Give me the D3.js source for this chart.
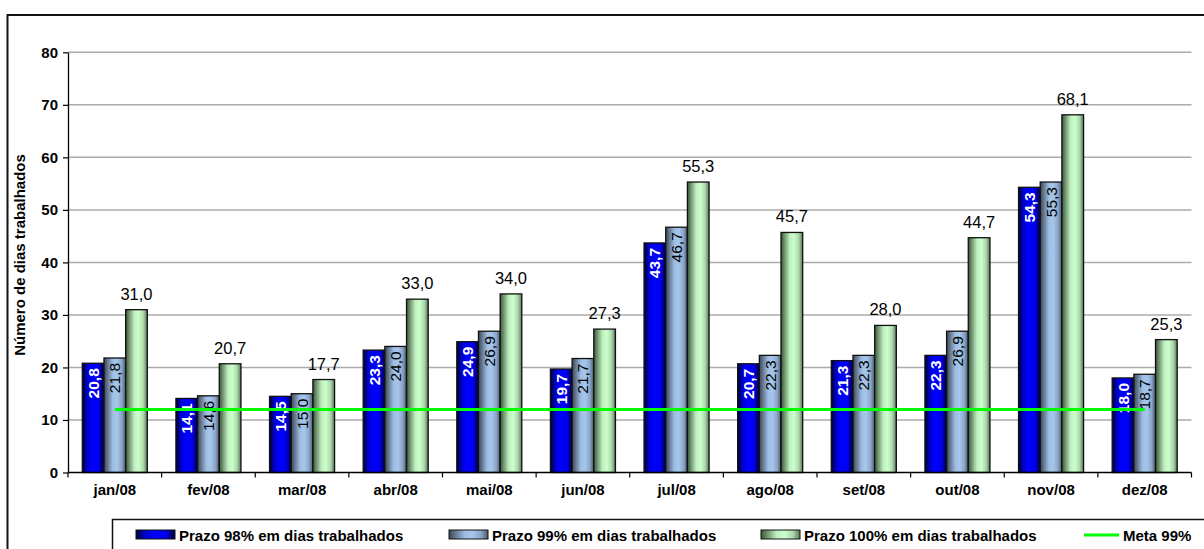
<!DOCTYPE html>
<html>
<head>
<meta charset="utf-8">
<script src="https://cdn.jsdelivr.net/npm/d3@7"></script>
<style>
  html, body { margin: 0; padding: 0; background: #fff; }
  svg { display: block; }
  text { font-family: "Liberation Sans", Arial, sans-serif; }
</style>
</head>
<body>
<script>
// Months of 2008
const months = ["jan/08", "fev/08", "mar/08", "abr/08", "mai/08", "jun/08",
                "jul/08", "ago/08", "set/08", "out/08", "nov/08", "dez/08"];

// Deadline in worked days for 98%, 99% and 100% of cases
const prazo98 = [20.8, 14.1, 14.5, 23.3, 24.9, 19.7, 43.7, 20.7, 21.3, 22.3, 54.3, 18.0];
const prazo99 = [21.8, 14.6, 15.0, 24.0, 26.9, 21.7, 46.7, 22.3, 22.3, 26.9, 55.3, 18.7];
const prazo100 = [31.0, 20.7, 17.7, 33.0, 34.0, 27.3, 55.3, 45.7, 28.0, 44.7, 68.1, 25.3];

// Target for the 99% deadline
const meta99 = [12, 12, 12, 12, 12, 12, 12, 12, 12, 12, 12, 12];

const yTicks = [0, 10, 20, 30, 40, 50, 60, 70, 80];

const seriesNames = ["Prazo 98% em dias trabalhados",
                     "Prazo 99% em dias trabalhados",
                     "Prazo 100% em dias trabalhados"];
const metaName = "Meta 99%";

const W = 1204, H = 549;
const plot = { left: 68, right: 1191.5, top: 52.3, bottom: 472.5 };

const svg = d3.select("body").append("svg")
  .attr("width", W).attr("height", H);

// Cylinder-like shading for each bar series
const defs = svg.append("defs");
const gradients = [
  { id: "g98", stops: [[0, "#00002a"], [0.22, "#0000c8"], [0.45, "#0000ff"], [0.75, "#0000f0"], [1, "#00003a"]] },
  { id: "g99", stops: [[0, "#3c4756"], [0.4, "#9dbde2"], [0.6, "#a6c6ec"], [0.82, "#8aa6c8"], [1, "#4c5a6a"]] },
  { id: "g100", stops: [[0, "#3a553a"], [0.4, "#bfefbf"], [0.6, "#ccffcc"], [0.82, "#abd8ab"], [1, "#587558"]] }
];
gradients.forEach(g => {
  const lg = defs.append("linearGradient").attr("id", g.id)
    .attr("x1", 0).attr("x2", 1).attr("y1", 0).attr("y2", 0);
  g.stops.forEach(s => lg.append("stop").attr("offset", s[0]).attr("stop-color", s[1]));
});

// Outer frame
svg.append("rect")
  .attr("x", 7.5).attr("y", 15).attr("width", W + 20).attr("height", H + 20)
  .attr("fill", "none").attr("stroke", "#111").attr("stroke-width", 2);

const x0 = d3.scaleBand().domain(months).range([plot.left, plot.right]).padding(0);
const x1 = d3.scaleBand().domain([0, 1, 2]).range([0, x0.bandwidth()])
  .paddingInner(0).paddingOuter(0.66);
const y = d3.scaleLinear().domain([0, 80]).range([plot.bottom, plot.top]);

// Horizontal gridlines
svg.append("g").selectAll("line").data(yTicks.filter(t => t > 0)).join("line")
  .attr("x1", plot.left).attr("x2", plot.right)
  .attr("y1", d => y(d)).attr("y2", d => y(d))
  .attr("stroke", "#ababab").attr("stroke-width", 1.5);

// Y axis
const yAxis = svg.append("g")
  .attr("transform", `translate(${plot.left},0)`)
  .call(d3.axisLeft(y).tickValues(yTicks).tickSize(5).tickPadding(5).tickSizeOuter(0));
yAxis.select(".domain").attr("stroke", "#000").attr("stroke-width", 1.3);
yAxis.selectAll(".tick line").attr("stroke", "#000").attr("stroke-width", 1.2);
yAxis.selectAll(".tick text")
  .attr("font-family", "'Liberation Sans', Arial, sans-serif")
  .attr("font-size", 15).attr("font-weight", "bold").attr("fill", "#000");

// Y axis title
svg.append("text")
  .attr("transform", `translate(25,255) rotate(-90)`)
  .attr("text-anchor", "middle")
  .attr("font-size", 15).attr("font-weight", "bold")
  .text("Número de dias trabalhados");

const fmt = v => d3.format(".1f")(v).replace(".", ",");

const allSeries = [prazo98, prazo99, prazo100];

// Bars
allSeries.forEach((vals, si) => {
  const g = svg.append("g");
  g.selectAll("rect").data(vals).join("rect")
    .attr("x", (d, i) => x0(months[i]) + x1(si))
    .attr("y", d => y(d))
    .attr("width", x1.bandwidth())
    .attr("height", d => y(0) - y(d))
    .attr("fill", `url(#${gradients[si].id})`)
    .attr("stroke", "#111").attr("stroke-width", 1.3);
});

// Value labels: vertical inside the first two series, horizontal above the third
[0, 1].forEach(si => {
  svg.append("g").selectAll("text").data(allSeries[si]).join("text")
    .attr("transform", (d, i) => {
      const cx = x0(months[i]) + x1(si) + x1.bandwidth() / 2 + 5.5;
      return `translate(${cx},${y(d) + 5}) rotate(-90)`;
    })
    .attr("text-anchor", "end")
    .attr("font-size", 15.5)
    .attr("font-weight", si === 0 ? "bold" : "normal")
    .attr("fill", si === 0 ? "#fff" : "#000")
    .text(d => fmt(d));
});
svg.append("g").selectAll("text").data(prazo100).join("text")
  .attr("x", (d, i) => x0(months[i]) + x1(2) + x1.bandwidth() / 2)
  .attr("y", d => y(d) - 10)
  .attr("text-anchor", "middle")
  .attr("font-size", 16.5)
  .attr("fill", "#000")
  .text(d => fmt(d));

// Target line through the category centres
const line = d3.line()
  .x((d, i) => x0(months[i]) + x0.bandwidth() / 2)
  .y(d => y(d));
svg.append("path").datum(meta99)
  .attr("d", line)
  .attr("fill", "none").attr("stroke", "#00ff00").attr("stroke-width", 3);

// X axis
const xAxis = svg.append("g")
  .attr("transform", `translate(0,${plot.bottom})`)
  .call(d3.axisBottom(x0).tickSize(0).tickPadding(12));
xAxis.select(".domain").remove();
xAxis.append("line")
  .attr("x1", plot.left).attr("x2", plot.right)
  .attr("stroke", "#000").attr("stroke-width", 1.3);
xAxis.selectAll(".tick text")
  .attr("font-family", "'Liberation Sans', Arial, sans-serif")
  .attr("font-size", 15).attr("font-weight", "bold").attr("fill", "#000");
// Category separator marks
xAxis.append("g").selectAll("line")
  .data(months.map(m => x0(m)).concat([plot.right])).join("line")
  .attr("x1", d => d).attr("x2", d => d)
  .attr("y1", 0).attr("y2", 5)
  .attr("stroke", "#000").attr("stroke-width", 1.2);

// Legend
const legend = svg.append("g");
legend.append("rect")
  .attr("x", 112.5).attr("y", 519.5).attr("width", W).attr("height", 60)
  .attr("fill", "#fff").attr("stroke", "#111").attr("stroke-width", 1.5);

const legendX = [136, 449, 761];
const legendY = 535;
seriesNames.forEach((name, si) => {
  legend.append("rect")
    .attr("x", legendX[si]).attr("y", legendY - 5)
    .attr("width", 39).attr("height", 9)
    .attr("fill", `url(#${gradients[si].id})`)
    .attr("stroke", "#111").attr("stroke-width", 1);
  legend.append("text")
    .attr("x", legendX[si] + 43).attr("y", legendY + 5.5)
    .attr("font-size", 15).attr("font-weight", "bold")
    .text(name);
});
legend.append("line")
  .attr("x1", 1084).attr("x2", 1119)
  .attr("y1", legendY).attr("y2", legendY)
  .attr("stroke", "#00ff00").attr("stroke-width", 3);
legend.append("text")
  .attr("x", 1123).attr("y", legendY + 5.5)
  .attr("font-size", 15).attr("font-weight", "bold")
  .text(metaName);
</script>
</body>
</html>
